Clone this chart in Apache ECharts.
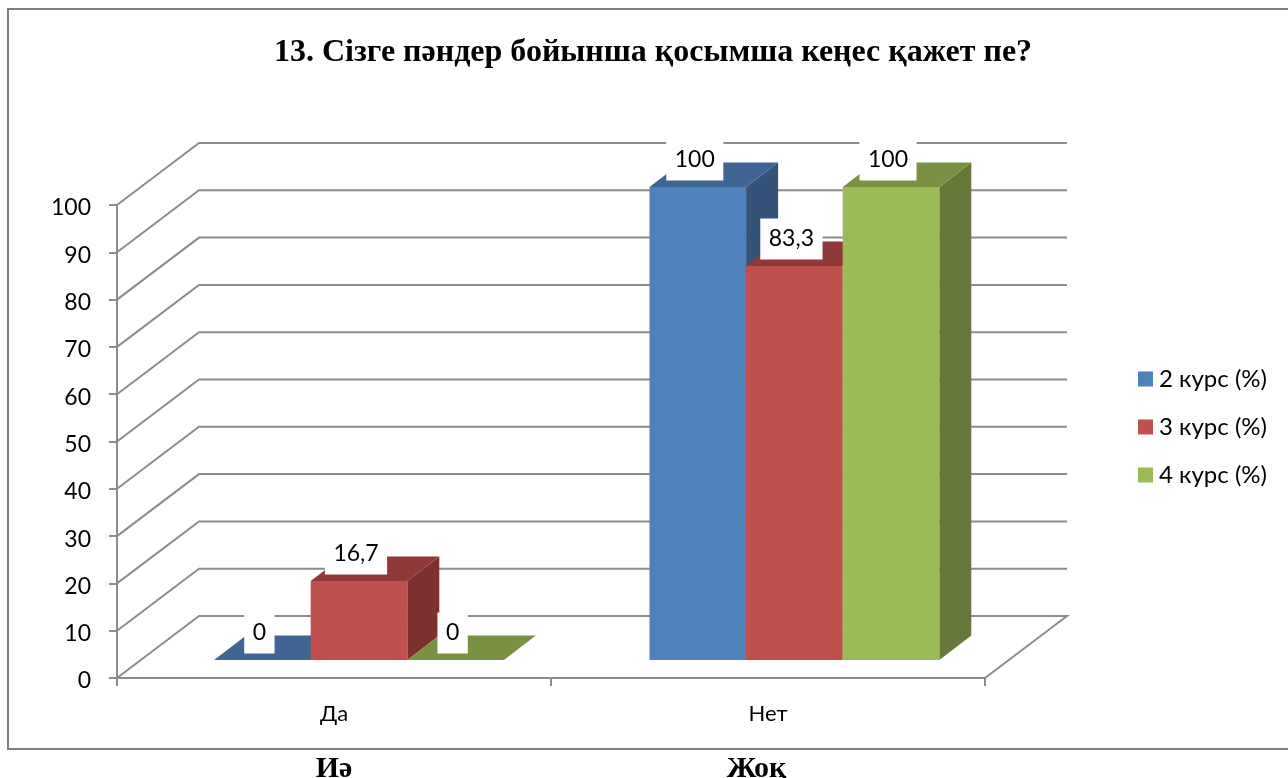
<!DOCTYPE html>
<html>
<head>
<meta charset="utf-8">
<title>13</title>
<script src="https://cdn.jsdelivr.net/npm/echarts@6/dist/echarts.min.js"></script>
<style>
  html, body { margin: 0; padding: 0; background: #fff; }
  #chart { width: 1288px; height: 778px; }
</style>
</head>
<body>
<div id="chart"></div>
<script>
const categories = ['Да', 'Нет'];
const seriesNames = ['2 курс (%)', '3 курс (%)', '4 курс (%)'];
const course2 = [0, 100];
const course3 = [16.7, 83.3];
const course4 = [0, 100];
const dataLabels2 = ['0', '100'];
const dataLabels3 = ['16,7', '83,3'];
const dataLabels4 = ['0', '100'];
const yTicks = [0, 10, 20, 30, 40, 50, 60, 70, 80, 90, 100];

const frontColors = ['#4F81BD', '#C0504D', '#9BBB59'];
const topColors = ['#3F6594', '#8F3A38', '#7A9144'];
const sideColors = ['#335378', '#7E302F', '#66793A'];

const FONT = 'Lato, "Open Sans", sans-serif';
const SERIF = '"Liberation Serif", serif';
const AXIS_COLOR = '#8C8C8C';

// fake 3D: how far the back wall and the bars sit behind the axis plane
const WALL_DX = 82;
const WALL_DY = -62;
const BAR_DX = 32;
const BAR_DY = -24.5;
const BAR_INSET_X = [25, 26.4];
const BAR_INSET_Y = -18;
const BAR_BAND_RATIO = 0.2226;

function renderWall(params, api) {
  const val = api.value(0);
  const y = api.coord([0, val])[1];
  const grid = params.coordSys;
  const left = grid.x;
  const right = grid.x + grid.width;
  const style = { stroke: AXIS_COLOR, lineWidth: 2, fill: null };
  const points = [[left, y], [left + WALL_DX, y + WALL_DY], [right + WALL_DX, y + WALL_DY]];
  if (val === 0) points.push([right, y]);
  return { type: 'polyline', shape: { points: points }, style: style, silent: true };
}

function renderBar(params, api, seriesIdx, labels) {
  const cat = api.value(0);
  const val = api.value(1);
  const base = api.coord([cat, 0]);
  const head = api.coord([cat, val]);
  const w = api.size([1, 0])[0] * BAR_BAND_RATIO;
  const x0 = base[0] + BAR_INSET_X[cat] + (seriesIdx - 1.5) * w;
  const x1 = x0 + w;
  const y0 = base[1] + BAR_INSET_Y;
  const y1 = head[1] + BAR_INSET_Y;
  const children = [
    { type: 'polygon', shape: { points: [[x1, y0], [x1 + BAR_DX, y0 + BAR_DY], [x1 + BAR_DX, y1 + BAR_DY], [x1, y1]] }, style: { fill: sideColors[seriesIdx] } },
    { type: 'polygon', shape: { points: [[x0, y1], [x1, y1], [x1 + BAR_DX, y1 + BAR_DY], [x0 + BAR_DX, y1 + BAR_DY]] }, style: { fill: topColors[seriesIdx] } },
    { type: 'rect', shape: { x: x0, y: y1, width: w, height: y0 - y1 }, style: { fill: frontColors[seriesIdx] } },
    {
      type: 'text',
      z2: 100,
      x: (x0 + x1) / 2 - 3,
      y: y1 - 27,
      style: {
        text: labels[cat],
        font: '23px ' + FONT,
        fill: '#000',
        align: 'center',
        verticalAlign: 'middle',
        backgroundColor: '#fff',
        padding: [16, 8.5, 2, 8.5]
      }
    }
  ];
  return { type: 'group', children: children };
}

function barSeries(idx, values, labels) {
  return {
    name: seriesNames[idx],
    type: 'custom',
    itemStyle: { color: frontColors[idx] },
    encode: { x: 0, y: 1 },
    data: values.map((v, i) => [i, v]),
    renderItem: (params, api) => renderBar(params, api, idx, labels)
  };
}

const chart = echarts.init(document.getElementById('chart'));
chart.setOption({
  animation: false,
  backgroundColor: '#fff',
  title: {
    text: '13. Сізге пәндер бойынша қосымша кеңес қажет пе?',
    left: 648,
    top: 32,
    textAlign: 'center',
    textStyle: { fontFamily: SERIF, fontWeight: 'bold', fontSize: 32, color: '#000' }
  },
  legend: {
    orient: 'vertical',
    left: 1138,
    top: 367,
    padding: 0,
    icon: 'rect',
    itemWidth: 15,
    itemHeight: 15,
    itemGap: 24,
    selectedMode: false,
    data: seriesNames,
    textStyle: { fontFamily: FONT, fontSize: 24, color: '#000', padding: [0, 0, 0, 1] }
  },
  grid: { left: 117, right: 303, top: 205, bottom: 100 },
  xAxis: {
    type: 'category',
    data: categories,
    axisLine: { lineStyle: { color: AXIS_COLOR, width: 2 } },
    axisTick: { show: true, length: 8, lineStyle: { color: AXIS_COLOR, width: 2 } },
    axisLabel: { fontFamily: FONT, fontSize: 22, color: '#000', margin: 25 }
  },
  yAxis: {
    type: 'value',
    min: 0,
    max: 100,
    interval: 10,
    axisLine: { show: true, lineStyle: { color: AXIS_COLOR, width: 2 } },
    axisTick: { show: true, length: 8, lineStyle: { color: AXIS_COLOR, width: 2 } },
    axisLabel: { fontFamily: FONT, fontSize: 23, color: '#000', margin: 26, verticalAlign: 'top', lineHeight: 6 },
    splitLine: { show: false }
  },
  graphic: [
    { type: 'polyline', shape: { points: [[1288, 9], [8, 9], [8, 749], [1288, 749]] }, style: { stroke: '#808080', lineWidth: 2, fill: null }, silent: true },
    { type: 'text', x: 334, y: 769, style: { text: 'Иә', font: 'bold 30px ' + SERIF, fill: '#000', align: 'center', verticalAlign: 'middle' } },
    { type: 'text', x: 756.5, y: 769, style: { text: 'Жоқ', font: 'bold 30px ' + SERIF, fill: '#000', align: 'center', verticalAlign: 'middle' } }
  ],
  series: [
    { type: 'custom', silent: true, data: yTicks.map((t) => [t]), encode: { y: 0 }, renderItem: renderWall, z: 1 },
    barSeries(0, course2, dataLabels2),
    barSeries(1, course3, dataLabels3),
    barSeries(2, course4, dataLabels4)
  ]
});
window.addEventListener('resize', () => chart.resize());
</script>
</body>
</html>
